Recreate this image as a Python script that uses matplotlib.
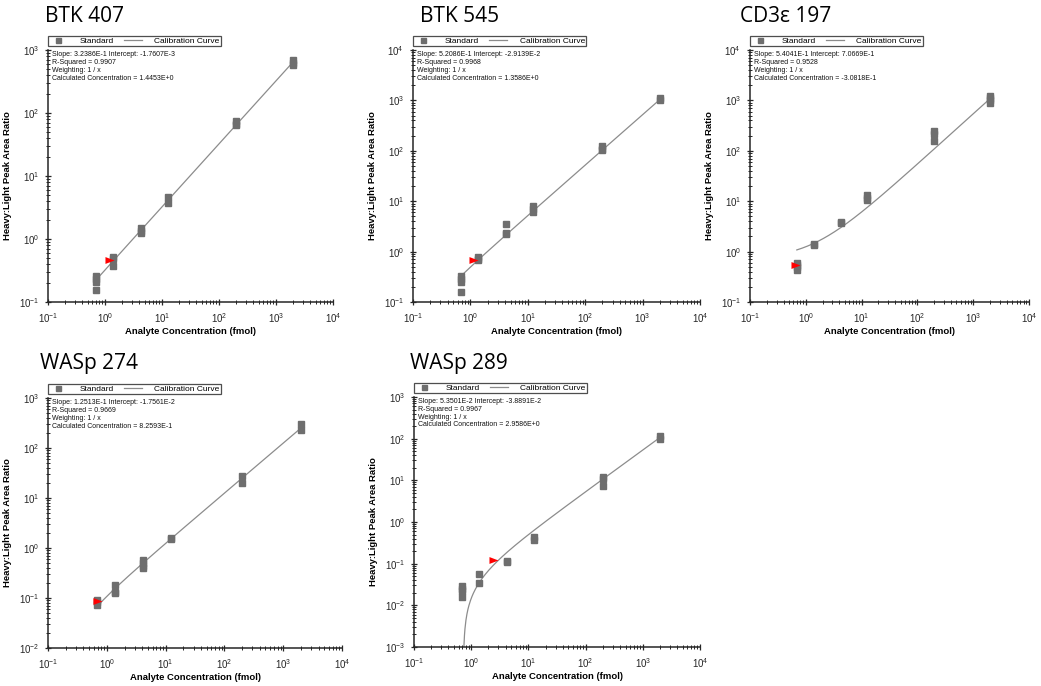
import numpy as np
import matplotlib
matplotlib.use("Agg")
import matplotlib.pyplot as plt
from matplotlib.lines import Line2D
from matplotlib.ticker import LogLocator, NullFormatter

plt.rcParams['font.family'] = ['Liberation Sans', 'DejaVu Sans']
plt.rcParams['mathtext.default'] = 'regular'

# nominal standard concentration levels (fmol)
conc_levels = [0.69, 1.38, 4.2, 12.5, 200, 2000]

# replicate Heavy:Light ratios at each level
btk407_ratio = [[0.26, 0.23, 0.21, 0.155], [0.52, 0.48, 0.37], [1.5, 1.35, 1.25],
                [4.6, 3.7], [75, 68, 65], [700, 630, 580]]
btk545_ratio = [[0.33, 0.29, 0.25, 0.155], [0.78, 0.71, 0.68], [3.5, 2.3, 2.2],
                [7.9, 6.9, 6.0], [125, 110, 105], [1100, 1000]]
cd3e197_ratio = [[0.6, 0.55, 0.5, 0.43], [1.4, 1.35], [3.9, 3.7],
                 [13, 11.5, 10.5], [250, 215, 160], [1250, 1100, 1000, 900]]
wasp274_ratio = [[0.092, 0.082, 0.073], [0.18, 0.13, 0.125], [0.57, 0.49, 0.43, 0.40],
                 [1.6, 1.5], [27, 20], [300, 225]]
wasp289_ratio = [[0.029, 0.025, 0.022, 0.0155], [0.056, 0.034], [0.118, 0.112],
                 [0.43, 0.37], [12, 10.5, 7.5], [115, 100]]

# fit parameters printed on each panel
titles = ["BTK 407", "BTK 545", "CD3\u03b5 197", "WASp 274", "WASp 289"]
slopes = [3.2386E-1, 5.2086E-1, 5.4041E-1, 1.2513E-1, 5.3501E-2]
intercepts = [-1.7607E-3, -2.9139E-2, 7.0669E-1, -1.7561E-2, -3.8891E-2]
slope_txt = ["3.2386E-1", "5.2086E-1", "5.4041E-1", "1.2513E-1", "5.3501E-2"]
intercept_txt = ["-1.7607E-3", "-2.9139E-2", "7.0669E-1", "-1.7561E-2", "-3.8891E-2"]
r_squared = ["0.9907", "0.9968", "0.9528", "0.9669", "0.9967"]
calc_conc = [1.4453, 1.3586, -0.30818, 0.82593, 2.9586]
calc_txt = ["1.4453E+0", "1.3586E+0", "-3.0818E-1", "8.2593E-1", "2.9586E+0"]
# the unknown marker of CD3e is shown at this x since its concentration is negative
flag_x = [1.4453, 1.3586, 0.8, 0.82593, 2.9586]
y_limits = [(1e-1, 1e3), (1e-1, 1e4), (1e-1, 1e4), (1e-2, 1e3), (1e-3, 1e3)]
ratios = [btk407_ratio, btk545_ratio, cd3e197_ratio, wasp274_ratio, wasp289_ratio]

W, H = 1041, 686
# axes boxes in pixels: left, top, right, bottom
boxes = [(48, 50, 333, 302), (413, 50, 700, 302), (750, 50, 1029, 302),
         (48, 398, 342, 648), (414, 397, 700, 647)]
title_pos = [(45, 6), (420, 6), (740, 6), (40, 353), (410, 353)]

fig = plt.figure(figsize=(W / 100, H / 100), dpi=100)

grey = "#6e6e6e"
line_grey = "#8c8c8c"
flag_marker = [(-1, 0.38), (0, 0), (-1, -0.38), (-1, 0.38)]

for i in range(5):
    l, t, r, b = boxes[i]
    ax = fig.add_axes([l / W, 1 - b / H, (r - l) / W, (b - t) / H])

    xs, ys = [], []
    for c, reps in zip(conc_levels, ratios[i]):
        xs += [c] * len(reps)
        ys += reps
    ax.plot(xs, ys, 's', color=grey, ms=3.9, mec=grey, zorder=3)

    # calibration curve y = slope * x + intercept
    xc = np.logspace(np.log10(min(conc_levels)), np.log10(max(conc_levels)), 400)
    yc = slopes[i] * xc + intercepts[i]
    yc = np.where(yc > 0, yc, 1e-9)
    ax.plot(xc, yc, '-', color=line_grey, lw=0.9, zorder=2)

    fy = slopes[i] * calc_conc[i] + intercepts[i]
    ax.plot([flag_x[i]], [fy], marker=flag_marker, color="red", ms=13, mew=0, zorder=4)

    ax.set_xscale('log')
    ax.set_yscale('log')
    ax.set_xlim(1e-1, 1e4)
    ax.set_ylim(*y_limits[i])

    for side in ['top', 'right']:
        ax.spines[side].set_visible(False)
    for side in ['left', 'bottom']:
        ax.spines[side].set_color('#262626')
        ax.spines[side].set_linewidth(1.1)

    for axis in [ax.xaxis, ax.yaxis]:
        axis.set_major_locator(LogLocator(base=10, numticks=20))
        axis.set_minor_locator(LogLocator(base=10, subs=np.arange(2, 10), numticks=20))
        axis.set_minor_formatter(NullFormatter())
    ax.tick_params(which='major', direction='inout', length=5, width=0.9,
                   colors='#262626', labelsize=7, pad=4)
    ax.tick_params(which='minor', direction='inout', length=3, width=0.7, colors='#262626')

    ax.set_xlabel("Analyte Concentration (fmol)", fontsize=6.8, fontweight='bold', labelpad=1.5)
    ax.set_ylabel("Heavy:Light Peak Area Ratio", fontsize=6.8, fontweight='bold', labelpad=5)

    stats = ("Slope: %s Intercept: %s\nR-Squared = %s\nWeighting: 1 / x\n"
             "Calculated Concentration = %s" % (slope_txt[i], intercept_txt[i],
                                                r_squared[i], calc_txt[i]))
    ax.text(0.015, 0.995, stats, transform=ax.transAxes, va='top', ha='left',
            fontsize=5, linespacing=1.15, color='#111111')

    handles = [Line2D([], [], marker='s', ls='', color=grey, ms=3.6),
               Line2D([], [], color=line_grey, lw=0.9)]
    frac = 173.0 / (r - l)
    leg = ax.legend(handles, ["Standard", "Calibration Curve"], loc='lower left',
                    bbox_to_anchor=(0, 1.015, frac, 0.04), mode='expand', ncol=2,
                    fontsize=6, frameon=True, fancybox=False, borderpad=0.15,
                    handlelength=2.2, handletextpad=1.5, borderaxespad=0,
                    columnspacing=1.0)
    leg.get_frame().set_edgecolor('#222222')
    leg.get_frame().set_linewidth(0.9)

    tx, ty = title_pos[i]
    fig.text(tx / W, 1 - ty / H, titles[i], fontsize=15, va='top', ha='left',
             family=['Open Sans', 'DejaVu Sans'], color='black')

fig.savefig("out.png", dpi=100)
